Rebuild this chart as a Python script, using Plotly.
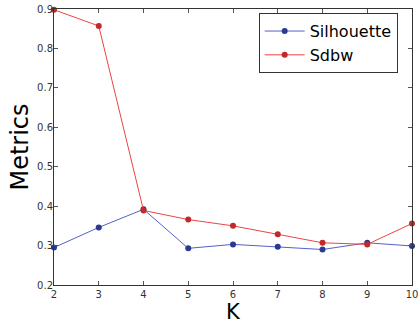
import plotly.graph_objects as go

k_values = [2, 3, 4, 5, 6, 7, 8, 9, 10]
silhouette = [0.295, 0.346, 0.392, 0.293, 0.303, 0.297, 0.290, 0.307, 0.299]
sdbw = [0.898, 0.857, 0.389, 0.366, 0.350, 0.329, 0.307, 0.303, 0.356]
x_ticks = [2, 3, 4, 5, 6, 7, 8, 9, 10]
y_ticks = [0.2, 0.3, 0.4, 0.5, 0.6, 0.7, 0.8, 0.9]

fig = go.Figure()
fig.add_trace(go.Scatter(
    x=k_values, y=silhouette, name="Silhouette", mode="lines+markers",
    line=dict(color="#5560c8", width=1),
    marker=dict(color="#2b3990", size=6, line=dict(width=0)),
    cliponaxis=False,
))
fig.add_trace(go.Scatter(
    x=k_values, y=sdbw, name="Sdbw", mode="lines+markers",
    line=dict(color="#ee4444", width=1),
    marker=dict(color="#c42828", size=6, line=dict(width=0)),
    cliponaxis=False,
))

axis_common = dict(
    showgrid=False, zeroline=False, showline=True, linecolor="#333333", linewidth=1,
    mirror="allticks", ticks="inside", ticklen=4, tickcolor="#555555",
    tickfont=dict(family="DejaVu Sans", size=10, color="#333333"),
    automargin=False, ticklabeloverflow="allow",
)
fig.update_layout(
    width=418, height=325,
    margin=dict(l=54, r=6, t=9, b=40),
    paper_bgcolor="white", plot_bgcolor="white",
    xaxis=dict(range=[2, 10], tickvals=x_ticks, ticktext=[str(v) for v in x_ticks],
               title=dict(text="K", font=dict(family="DejaVu Sans", size=21, color="black"), standoff=4),
               **axis_common),
    yaxis=dict(range=[0.2, 0.9], tickvals=y_ticks, ticktext=[f"{v:.1f}" for v in y_ticks],
               ticklabelstandoff=-2,
               title=dict(text="Metrics", font=dict(family="DejaVu Sans", size=24, color="black"), standoff=1),
               **axis_common),
    legend=dict(x=0.96, y=0.985, xanchor="right", yanchor="top",
                bgcolor="white", bordercolor="#333333", borderwidth=1,
                font=dict(family="DejaVu Sans", size=16, color="black"),
                tracegroupgap=0, itemwidth=40),
    showlegend=True,
)
fig.write_html("out.html", config={"displayModeBar": False},
               post_script="document.body.style.margin='0px';document.body.style.overflow='hidden';")
